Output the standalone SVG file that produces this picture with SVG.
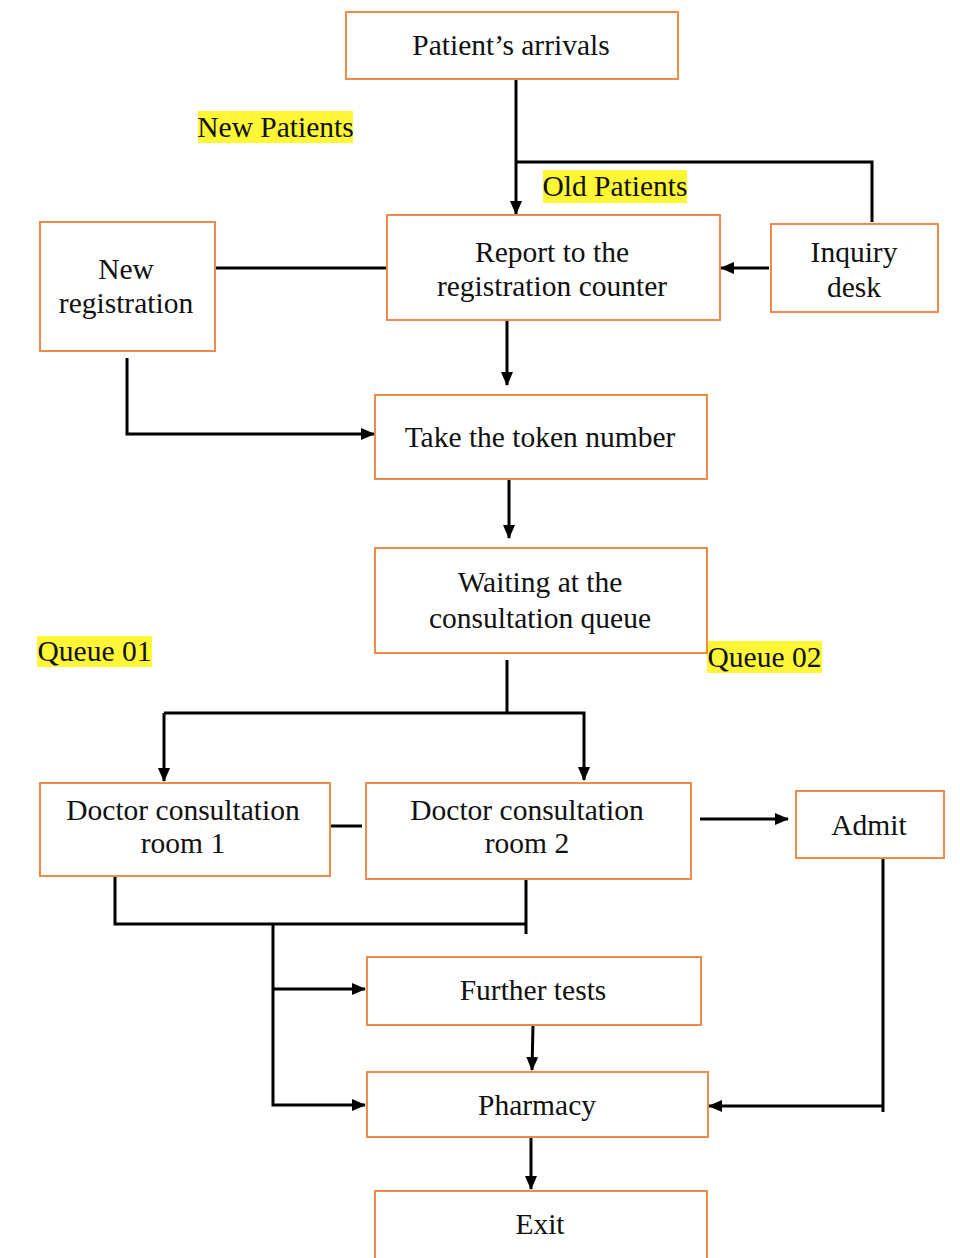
<svg xmlns="http://www.w3.org/2000/svg" width="960" height="1258" viewBox="0 0 960 1258">
<style>
.box{fill:#fff;stroke:#F08A4B;stroke-width:2}
.t{font-family:'Liberation Serif','Times New Roman','DejaVu Serif',serif;font-size:29.5px;fill:#111;text-anchor:middle}
.hl{fill:#FFF735}
.c{fill:none;stroke:#000;stroke-width:3}
</style>
<defs>
<marker id="ah" viewBox="0 0 14 12" refX="13" refY="6" markerWidth="14" markerHeight="12" markerUnits="userSpaceOnUse" orient="auto">
<path d="M0,0 L14,6 L0,12 Z" fill="#000"/>
</marker>
</defs>
<rect width="960" height="1258" fill="#fff"/>
<g id="labels">
<rect class="hl" x="198" y="111" width="155" height="32"/>
<text class="t" x="275.5" y="137">New Patients</text>
<rect class="hl" x="543" y="170" width="144" height="33"/>
<text class="t" x="615" y="196">Old Patients</text>
<rect class="hl" x="37" y="636" width="115" height="31"/>
<text class="t" x="94.5" y="661">Queue 01</text>
<rect class="hl" x="707" y="641" width="115" height="32"/>
<text class="t" x="764.5" y="667">Queue 02</text>
</g>
<g id="connectors">
<path class="c" d="M516,79 V214" marker-end="url(#ah)"/>
<path class="c" d="M516,162 H872 V222"/>
<path class="c" d="M769,268 H721" marker-end="url(#ah)"/>
<path class="c" d="M215,268 H387"/>
<path class="c" d="M507,320 V385" marker-end="url(#ah)"/>
<path class="c" d="M127,358 V434 H374" marker-end="url(#ah)"/>
<path class="c" d="M509,480 V538" marker-end="url(#ah)"/>
<path class="c" d="M507,660 V713"/>
<path class="c" d="M164,713 H584 V780" marker-end="url(#ah)"/>
<path class="c" d="M164,713 V781" marker-end="url(#ah)"/>
<path class="c" d="M330,826 H362"/>
<path class="c" d="M700,819 H788" marker-end="url(#ah)"/>
<path class="c" d="M115,876 V924 H526"/>
<path class="c" d="M526,879 V934"/>
<path class="c" d="M273,924 V1105 H365" marker-end="url(#ah)"/>
<path class="c" d="M273,989 H365" marker-end="url(#ah)"/>
<path class="c" d="M533,1025 L532,1070" marker-end="url(#ah)"/>
<path class="c" d="M883,858 V1112"/>
<path class="c" d="M883,1106 H709" marker-end="url(#ah)"/>
<path class="c" d="M531,1133 V1189" marker-end="url(#ah)"/>
</g>
<g id="arrivals"><rect class="box" x="346" y="12" width="332" height="67"/><text class="t" x="511" y="55">Patient’s arrivals</text></g>
<g id="report"><rect class="box" x="387" y="215" width="333" height="105"/><text class="t" x="552" y="262">Report to the</text><text class="t" x="552" y="296">registration  counter</text></g>
<g id="inquiry"><rect class="box" x="771" y="224" width="167" height="88"/><text class="t" x="854" y="262">Inquiry</text><text class="t" x="854" y="297">desk</text></g>
<g id="newreg"><rect class="box" x="40" y="222" width="175" height="129"/><text class="t" x="126" y="279">New</text><text class="t" x="126" y="313">registration</text></g>
<g id="token"><rect class="box" x="375" y="395" width="332" height="84"/><text class="t" x="540" y="447">Take the token number</text></g>
<g id="waiting"><rect class="box" x="375" y="548" width="332" height="105"/><text class="t" x="540" y="592">Waiting at the</text><text class="t" x="540" y="628">consultation queue</text></g>
<g id="room1"><rect class="box" x="40" y="783" width="290" height="93"/><text class="t" x="183" y="820">Doctor consultation</text><text class="t" x="183" y="853">room 1</text></g>
<g id="room2"><rect class="box" x="366" y="783" width="325" height="96"/><text class="t" x="527" y="820">Doctor consultation</text><text class="t" x="527" y="853">room 2</text></g>
<g id="admit"><rect class="box" x="796" y="791" width="148" height="67"/><text class="t" x="869" y="835">Admit</text></g>
<g id="tests"><rect class="box" x="367" y="957" width="334" height="68"/><text class="t" x="533" y="1000">Further tests</text></g>
<g id="pharmacy"><rect class="box" x="367" y="1072" width="341" height="65"/><text class="t" x="537" y="1115">Pharmacy</text></g>
<g id="exit"><rect class="box" x="375" y="1191" width="332" height="70"/><text class="t" x="540" y="1234">Exit</text></g>
</svg>
